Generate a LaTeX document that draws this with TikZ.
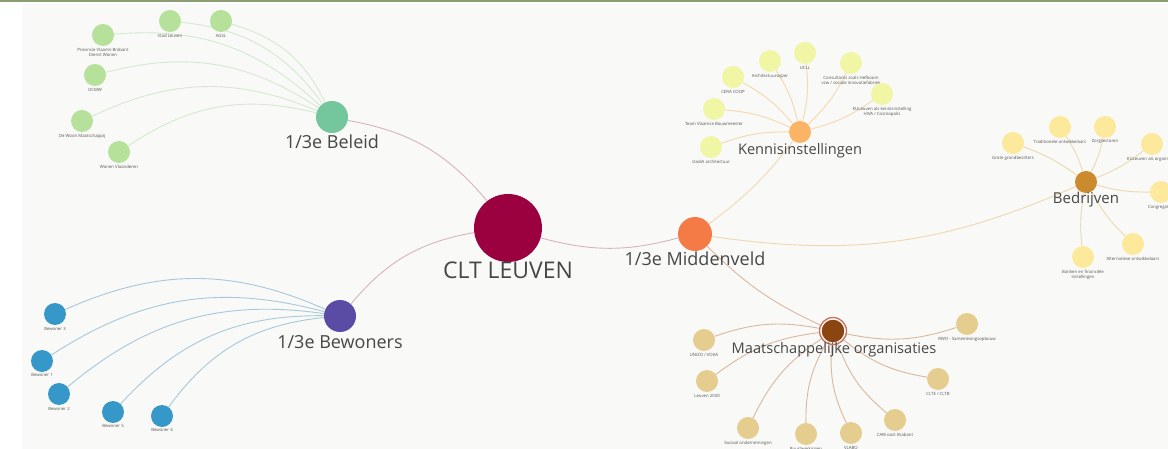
\documentclass[tikz,border=0pt]{standalone}
\usepackage{fontspec}
\setmainfont{Open Sans}
\usetikzlibrary{backgrounds}
\definecolor{panel}{HTML}{F9F9F7}
\definecolor{topbar}{HTML}{8A9C72}
\definecolor{cltc}{HTML}{9B003F}
\definecolor{belc}{HTML}{74C69D}
\definecolor{bewc}{HTML}{5A4BA5}
\definecolor{midc}{HTML}{F47B45}
\definecolor{kenc}{HTML}{FBB465}
\definecolor{bedc}{HTML}{CC8A2F}
\definecolor{matc}{HTML}{8B4510}
\definecolor{matring}{HTML}{C9705C}
\definecolor{gleafc}{HTML}{B5E19A}
\definecolor{bleafc}{HTML}{3598C9}
\definecolor{kleafc}{HTML}{F1F6A5}
\definecolor{dleafc}{HTML}{FDE99B}
\definecolor{mleafc}{HTML}{E5CD8F}
\definecolor{gedgec}{HTML}{D3EAD0}
\definecolor{bedgec}{HTML}{A8C8DC}
\definecolor{cedgec}{HTML}{D8B3C0}
\definecolor{kedgec}{HTML}{F5D8B0}
\definecolor{dedgec}{HTML}{ECD9B0}
\definecolor{medgec}{HTML}{D9B8A0}
\definecolor{hubtxt}{HTML}{474747}
\definecolor{leaftxt}{HTML}{555555}
\tikzset{
  hub/.style={circle, inner sep=0pt},
  leaf/.style={circle, inner sep=0pt, minimum size=22pt},
  gleaf/.style={leaf, fill=gleafc},
  bleaf/.style={leaf, fill=bleafc},
  kleaf/.style={leaf, fill=kleafc},
  dleaf/.style={leaf, fill=dleafc},
  mleaf/.style={leaf, fill=mleafc},
  hublbl/.style={text=hubtxt, inner sep=0pt},
  leaflbl/.style={text=leaftxt, inner sep=0pt, align=center, font=\fontsize{4.3}{4.9}\selectfont},
  edge/.style={line width=0.9pt},
  gedge/.style={edge, draw=gedgec},
  bedge/.style={edge, draw=bedgec},
  cedge/.style={edge, draw=cedgec},
  kedge/.style={edge, draw=kedgec},
  dedge/.style={edge, draw=dedgec},
  medge/.style={edge, draw=medgec},
}
\newcommand{\leafnode}[5]{%
  \node[#4] (#1) at (#2,#3) {};
  \node[leaflbl, anchor=north] (#1-l) at ([yshift=-1.5pt]#1.south) {#5};}
\begin{document}
\begin{tikzpicture}[x=1pt,y=-1pt]
\useasboundingbox (0,0) rectangle (1168,449);
% hubs
\node[hub, fill=cltc, minimum size=68pt] (clt) at (508,228) {};
\node[hublbl, font=\fontsize{23}{26}\selectfont] (clt-l) at (508,270) {CLT LEUVEN};
\node[hub, fill=belc, minimum size=32pt] (bel) at (332,117) {};
\node[hublbl, font=\fontsize{18}{21}\selectfont] (bel-l) at (332,142) {1/3e Beleid};
\node[hub, fill=bewc, minimum size=32pt] (bew) at (340,316) {};
\node[hublbl, font=\fontsize{18}{21}\selectfont] (bew-l) at (340,342) {1/3e Bewoners};
\node[hub, fill=midc, minimum size=34pt] (mid) at (695,234) {};
\node[hublbl, font=\fontsize{18}{21}\selectfont] (mid-l) at (695,259) {1/3e Middenveld};
\node[hub, fill=kenc, minimum size=22pt] (ken) at (800,132) {};
\node[hublbl, font=\fontsize{14.6}{17}\selectfont] (ken-l) at (800,151) {Kennisinstellingen};
\node[hub, fill=bedc, minimum size=22pt] (bed) at (1086,182) {};
\node[hublbl, font=\fontsize{15}{18}\selectfont] (bed-l) at (1086,200) {Bedrijven};
\node[hub, fill=matc, draw=white, line width=1.2pt, minimum size=24pt] (mat) at (833,331) {};
\draw[matring, line width=1.3pt] (mat.center) circle (13.5pt);
\node[hublbl, font=\fontsize{14.6}{17}\selectfont] (mat-l) at (834,350) {Maatschappelijke organisaties};
% green leaves
\leafnode{g1}{170}{21}{gleaf}{Stad Leuven}
\leafnode{g2}{221}{21}{gleaf}{AGSL}
\leafnode{g3}{103}{35}{gleaf}{Provincie Vlaams-Brabant\\Dienst Wonen}
\leafnode{g4}{95}{75}{gleaf}{OCMW}
\leafnode{g5}{82}{121}{gleaf}{De Woon Maatschappij}
\leafnode{g6}{119}{152}{gleaf}{Wonen Vlaanderen}
% blue leaves
\leafnode{b3}{55}{314}{bleaf}{Bewoner 3}
\leafnode{b1}{42}{361}{bleaf}{Bewoner 1}
\leafnode{b2}{59}{394}{bleaf}{Bewoner 2}
\leafnode{b5}{113}{412}{bleaf}{Bewoner 5}
\leafnode{b4}{162}{416}{bleaf}{Bewoner 4}
% kennis leaves
\leafnode{k1}{733}{77}{kleaf}{CERA COOP}
\leafnode{k2}{770}{61}{kleaf}{Architectuurwijzer}
\leafnode{k3}{805}{53}{kleaf}{UCLL}
\leafnode{k4}{851}{63}{kleaf}{Consultants zoals Hefboom\\vzw / sociale innovatiefabriek}
\leafnode{k5}{882}{94}{kleaf}{KULeuven als kennisinstelling\\HIVA / Cosmopolis}
\leafnode{k6}{714}{109}{kleaf}{Team Vlaamse Bouwmeester}
\leafnode{k7}{711}{147}{kleaf}{stadiA architectuur}
% bedrijven leaves
\leafnode{d1}{1013}{143}{dleaf}{Grote grondbezitters}
\leafnode{d2}{1060}{127}{dleaf}{Traditionele ontwikkelaars}
\leafnode{d3}{1105}{127}{dleaf}{Zorgsectoren}
\leafnode{d4}{1152}{144}{dleaf}{KULeuven als organisatie}
\leafnode{d5}{1161}{192}{dleaf}{Congregaties}
\leafnode{d6}{1133}{244}{dleaf}{Alternatieve ontwikkelaars}
\leafnode{d7}{1083}{257}{dleaf}{Banken en financi\"ele\\instellingen}
% maatschappelijke leaves
\leafnode{m1}{704}{340}{mleaf}{UNIZO / VOKA}
\leafnode{m2}{707}{381}{mleaf}{Leuven 2030}
\leafnode{m3}{748}{428}{mleaf}{Sociaal ondernemingen}
\leafnode{m4}{806}{434}{mleaf}{Buurtwerkingen}
\leafnode{m5}{851}{433}{mleaf}{VLABO}
\leafnode{m6}{895}{420}{mleaf}{CAW oost Brabant}
\leafnode{m7}{938}{379}{mleaf}{CLTE / CLTB}
\leafnode{m8}{967}{324}{mleaf}{RWO - Samenlevingsopbouw}
\begin{scope}[on background layer]
  \fill[white] (0,0) rectangle (1168,449);
  \fill[panel] (22,4) rectangle (1168,449);
  \fill[topbar] (0,0) rectangle (1168,2.5);
  % hub connectors
  \draw[cedge] (clt) to[bend right=20] (bel);
  \draw[cedge] (clt) to[bend right=20] (bew);
  \draw[cedge] (clt) to[bend right=15] (mid);
  \draw[kedge] (mid) to[bend right=8] (ken);
  \draw[dedge] (mid) to[bend right=16] (bed);
  \draw[medge] (mid) to[bend right=10] (mat);
  % green
  \foreach \t in {g1,g2,g3,g4,g5,g6} \draw[gedge] (bel) to[bend right=24] (\t);
  % blue
  \foreach \t in {b3,b1,b2,b5,b4} \draw[bedge] (bew) to[bend right=24] (\t);
  % kennis
  \foreach \t in {k1,k2,k3,k4,k5,k6,k7} \draw[kedge] (ken) to[bend right=10] (\t);
  % bedrijven
  \foreach \t in {d1,d2,d3,d4,d5,d6,d7} \draw[dedge] (bed) to[bend right=8] (\t);
  % maatschappelijke
  \foreach \t in {m1,m2,m3,m4,m5,m6,m7,m8} \draw[medge] (mat) to[bend right=15] (\t);
\end{scope}
\end{tikzpicture}
\end{document}
